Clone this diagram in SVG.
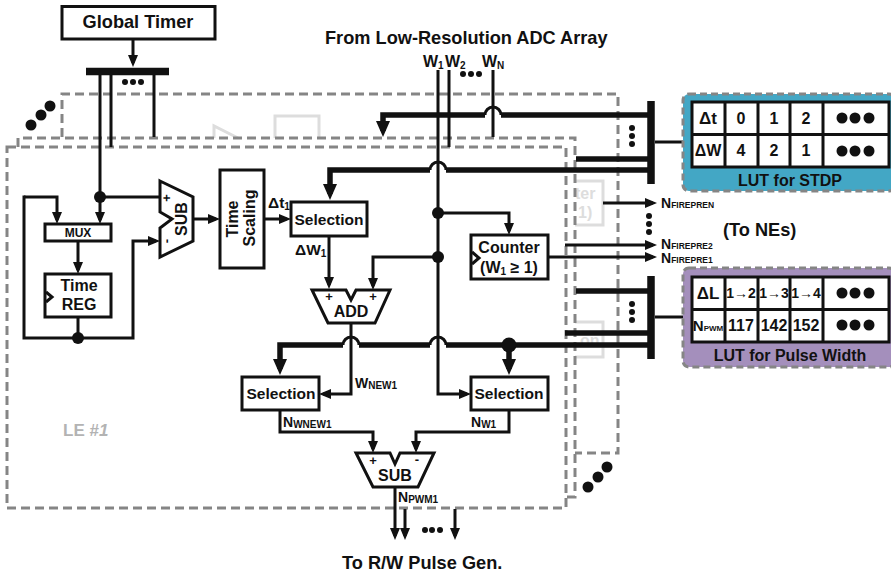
<svg xmlns="http://www.w3.org/2000/svg" width="891" height="576" viewBox="0 0 891 576">
<style>
text{font-family:"Liberation Sans",Arial,sans-serif;font-weight:bold;fill:#111}
.box{fill:#fff;stroke:#111;stroke-width:3}
.w{fill:none;stroke:#111;stroke-width:3}
.t{fill:none;stroke:#111;stroke-width:5.5}
.d{stroke:#858585;stroke-width:3;stroke-dasharray:9 5;fill:#fff}
.g{fill:#fff;stroke:#ddd;stroke-width:3}
.gt{fill:#ddd;font-size:16px}
.c{text-anchor:middle}
.s15{font-size:15.500px}.s16{font-size:16px}.s18{font-size:18.200px}
.sub{font-size:10px}
.fs{font-size:8.500px}
.n{font-size:14px}
.p{font-size:13px;text-anchor:middle}
.lut{stroke:#858585;stroke-width:3;stroke-dasharray:7 4}
.tb{fill:#fff;stroke:#111;stroke-width:3}
</style>
<defs>
<marker id="a" markerUnits="userSpaceOnUse" markerWidth="14" markerHeight="12" refX="8" refY="5" orient="auto"><path d="M0 0L12 5L0 10Z" fill="#111"/></marker>
<marker id="b" markerUnits="userSpaceOnUse" markerWidth="18" markerHeight="16" refX="10" refY="7" orient="auto"><path d="M0 0L16 7L0 14Z" fill="#111"/></marker>
</defs>

<g id="background-planes">
<path class="d" d="M62 137V94H618V453H575"/>
<rect class="g" x="275" y="116" width="44" height="30"/>
<path class="g" d="M214 140V126L238 138"/>
<rect class="g" x="560" y="181" width="43" height="44"/>
<text class="gt" x="575" y="199">ter</text><text class="gt" x="578" y="218">1)</text>
<rect class="g" x="560" y="322" width="43" height="35"/>
<text class="gt" x="580" y="346">on</text>
<path class="d" d="M18 147V138H575V497H566"/>
<rect id="le1-frame" class="d" x="7" y="147" width="559" height="361"/>
<circle cx="31" cy="125" r="5.5" fill="#111"/><circle cx="41" cy="115" r="5.5" fill="#111"/><circle cx="50" cy="106" r="5.5" fill="#111"/>
<circle cx="607" cy="467" r="5.5" fill="#111"/><circle cx="598" cy="477" r="5.5" fill="#111"/><circle cx="588" cy="487" r="5.5" fill="#111"/>
<text x="63" y="436" font-size="17" style="fill:#b3b3b3">LE #<tspan font-style="italic">1</tspan></text>
</g>

<g id="connectors">
<path class="w" d="M133 39V63" marker-end="url(#a)"/>
<path class="w" d="M100 75V220" marker-end="url(#a)"/>
<path class="w" d="M111 75V147M154 75V137"/>
<path class="w" d="M100 197H160"/>
<path class="w" d="M24 197H57V220" marker-end="url(#a)"/>
<path class="w" d="M24 195.500V338H133V241H156" marker-end="url(#a)"/>
<path class="w" d="M78 241V270" marker-end="url(#a)"/>
<path class="w" d="M78 317V338"/>
<path class="w" d="M193 219H216" marker-end="url(#a)"/>
<path class="w" d="M264 219H287" marker-end="url(#a)"/>
<path class="w" d="M329 236V285" marker-end="url(#a)"/>
<path class="w" d="M438 70V394H467" marker-end="url(#a)"/>
<path class="w" d="M449 70V147M493 70V137"/>
<path class="w" d="M438 213H509V231" marker-end="url(#a)"/>
<path class="w" d="M438 257H373V286" marker-end="url(#a)"/>
<path class="w" d="M351 323V394H323" marker-end="url(#a)"/>
<path class="w" d="M280 410V432H373V449" marker-end="url(#a)"/>
<path class="w" d="M509 410V432H416V449" marker-end="url(#a)"/>
<path class="w" d="M395 487V536" marker-end="url(#a)"/>
<path class="w" d="M405 509V536" marker-end="url(#a)"/>
<path class="w" d="M455 509V536" marker-end="url(#a)"/>
<path class="w" d="M548 257H653" marker-end="url(#a)"/>
<path class="w" d="M565 245H653" marker-end="url(#a)"/>
<path class="w" d="M603 203H653" marker-end="url(#a)"/>
<path class="t" d="M383 131V115H485M501 115H648"/>
<path class="w" d="M383 125V131" marker-end="url(#b)"/>
<path class="w" d="M485 115A8 8 0 0 1 501 115" stroke-width="4"/>
<path class="t" d="M576 159H648"/>
<path class="t" d="M330 194V170H430M446 170H648"/>
<path class="w" d="M330 186V194" marker-end="url(#b)"/>
<path class="w" d="M430 170A8 8 0 0 1 446 170" stroke-width="4"/>
<path class="t" d="M576 291H648M565 333H648"/>
<path class="t" d="M280 369V345H343M359 345H430M446 345H648"/>
<path class="w" d="M280 360V369" marker-end="url(#b)"/>
<path class="w" d="M343 345A8 8 0 0 1 359 345M430 345A8 8 0 0 1 446 345" stroke-width="4"/>
<path class="t" d="M509 345V369"/>
<path class="w" d="M509 360V369" marker-end="url(#b)"/>
<path class="w" d="M655 142H684M655 317H684" stroke-width="4.5"/>
<path d="M86 71.5H169" stroke="#111" stroke-width="7.5"/>
<path d="M651 101V184M651 276V359" stroke="#111" stroke-width="7.5"/>
<circle cx="100" cy="197" r="6" fill="#111"/>
<circle cx="78" cy="338" r="6" fill="#111"/>
<circle cx="438" cy="213" r="6" fill="#111"/>
<circle cx="438" cy="257" r="6" fill="#111"/>
<circle cx="509" cy="345" r="7.5" fill="#111"/>
<circle cx="125" cy="82" r="3" fill="#111"/><circle cx="133" cy="82" r="3" fill="#111"/><circle cx="141" cy="82" r="3" fill="#111"/>
<circle cx="463" cy="74" r="3" fill="#111"/><circle cx="471" cy="74" r="3" fill="#111"/><circle cx="479" cy="74" r="3" fill="#111"/>
<circle cx="632" cy="128" r="3" fill="#111"/><circle cx="632" cy="136" r="3" fill="#111"/><circle cx="632" cy="144" r="3" fill="#111"/>
<circle cx="632" cy="304" r="3" fill="#111"/><circle cx="632" cy="312" r="3" fill="#111"/><circle cx="632" cy="320" r="3" fill="#111"/>
<circle cx="649" cy="216" r="3" fill="#111"/><circle cx="649" cy="224" r="3" fill="#111"/><circle cx="649" cy="232" r="3" fill="#111"/>
<circle cx="425" cy="530" r="3" fill="#111"/><circle cx="432" cy="530" r="3" fill="#111"/><circle cx="440" cy="530" r="3" fill="#111"/>
</g>

<g id="global-timer"><rect class="box" x="62" y="6.500" width="153" height="32.500"/><text class="s18 c" x="138" y="28">Global Timer</text></g>
<g id="mux"><rect class="box" x="45" y="224" width="66" height="17"/><text class="c" font-size="12" x="78" y="237">MUX</text></g>
<g id="time-reg"><rect class="box" x="45" y="274" width="66" height="43"/><path class="w" d="M46 292L52 297L46 302"/><text class="s16 c" x="79" y="291">Time</text><text class="s16 c" x="79" y="310">REG</text></g>
<g id="sub-time"><path class="box" d="M160 181L193 197V241L160 257V228L172 219L160 212Z"/><text class="s16 c" transform="translate(187 219) rotate(-90)">SUB</text><text class="p" transform="translate(171 198) rotate(-90)">+</text><text class="p" transform="translate(171 241) rotate(-90)">-</text></g>
<g id="time-scaling"><rect class="box" x="220" y="170" width="44" height="98"/><text class="s16 c" transform="translate(238 219) rotate(-90)">Time</text><text class="s16 c" transform="translate(255 218) rotate(-90)">Scaling</text></g>
<g id="selection-dt"><rect class="box" x="291" y="202" width="76" height="34"/><text class="s15 c" x="329" y="225">Selection</text></g>
<g id="counter"><rect class="box" x="471" y="235" width="77" height="44"/><path class="w" d="M472 252L479 258L472 264"/><text class="s16 c" x="509" y="253">Counter</text><text class="s16 c" x="509" y="273">(W<tspan class="sub" dy="2">1</tspan><tspan dy="-2"> ≥ 1)</tspan></text></g>
<g id="add"><path class="box" d="M312 290H346L351 300L356 290H390L375 323H328Z"/><text class="s16 c" x="351" y="317">ADD</text><text class="p" x="329" y="301">+</text><text class="p" x="373" y="301">+</text></g>
<g id="selection-wnew"><rect class="box" x="242" y="377" width="77" height="33"/><text class="s15 c" x="281" y="399">Selection</text></g>
<g id="selection-w1"><rect class="box" x="471" y="377" width="77" height="33"/><text class="s15 c" x="509" y="399">Selection</text></g>
<g id="sub-pwm"><path class="box" d="M356 453H390L395 464L400 453H434L418 487H373Z"/><text class="s16 c" x="395" y="481">SUB</text><text class="p" x="373" y="465">+</text><text class="p" x="417" y="464">-</text></g>

<g id="lut-stdp">
<rect class="lut" x="683" y="94" width="212" height="97" rx="6" fill="#43a7c5"/>
<rect class="tb" x="692" y="102" width="197" height="65"/>
<path class="w" d="M692 134.500H889M725 102V167M758 102V167M790 102V167M823 102V167"/>
<text class="c" font-size="17" x="708" y="124">Δt</text><text class="s16 c" x="741" y="124">0</text><text class="s16 c" x="774" y="124">1</text><text class="s16 c" x="806" y="124">2</text>
<text class="s16 c" x="708" y="156">ΔW</text><text class="s16 c" x="741" y="156">4</text><text class="s16 c" x="774" y="156">2</text><text class="s16 c" x="806" y="156">1</text>
<g fill="#111"><circle cx="842" cy="118" r="5.500"/><circle cx="855" cy="118" r="5.500"/><circle cx="869" cy="118" r="5.500"/><circle cx="842" cy="151" r="5.500"/><circle cx="855" cy="151" r="5.500"/><circle cx="869" cy="151" r="5.500"/></g>
<text class="s16 c" x="790" y="186">LUT for STDP</text>
</g>
<g id="lut-pulse">
<rect class="lut" x="683" y="268" width="212" height="99" rx="6" fill="#a48fbc"/>
<rect class="tb" x="692" y="277" width="197" height="65"/>
<path class="w" d="M692 309.500H889M725 277V342M758 277V342M790 277V342M823 277V342"/>
<text class="c" font-size="17" x="708" y="299">ΔL</text>
<text class="c" font-size="14" x="741" y="298">1→2</text><text class="c" font-size="14" x="774" y="298">1→3</text><text class="c" font-size="14" x="806" y="298">1→4</text>
<text class="c" font-size="15" x="708" y="331">N<tspan font-size="8">PWM</tspan></text>
<text class="s16 c" x="741" y="331">117</text><text class="s16 c" x="774" y="331">142</text><text class="s16 c" x="806" y="331">152</text>
<g fill="#111"><circle cx="842" cy="293" r="5.500"/><circle cx="855" cy="293" r="5.500"/><circle cx="869" cy="293" r="5.500"/><circle cx="842" cy="325" r="5.500"/><circle cx="855" cy="325" r="5.500"/><circle cx="869" cy="325" r="5.500"/></g>
<text class="s16 c" x="790" y="361">LUT for Pulse Width</text>
</g>

<g id="labels">
<text class="s18" x="325" y="44">From Low-Resolution ADC Array</text>
<text class="s18" x="342" y="569">To R/W Pulse Gen.</text>
<text class="s18" x="723" y="236">(To NEs)</text>
<text class="s16" x="423" y="67">W<tspan class="sub" dy="2">1</tspan></text>
<text class="s16" x="445" y="67">W<tspan class="sub" dy="2">2</tspan></text>
<text class="s16" x="482" y="67">W<tspan class="sub" dy="2">N</tspan></text>
<text class="s15" x="268" y="208">Δt<tspan class="sub" dy="2">1</tspan></text>
<text class="s15" x="295" y="255">ΔW<tspan class="sub" dy="2">1</tspan></text>
<text class="n" x="355" y="388">W<tspan class="sub" dy="1">NEW1</tspan></text>
<text class="n" x="283" y="427">N<tspan class="sub" dy="1">WNEW1</tspan></text>
<text class="n" x="471" y="427">N<tspan class="sub" dy="1">W1</tspan></text>
<text class="n" x="398" y="502">N<tspan class="sub" dy="1">PWM1</tspan></text>
<text class="n" x="661" y="208">N<tspan class="fs">FIREPREN</tspan></text>
<text class="n" x="661" y="249">N<tspan class="fs">FIREPRE2</tspan></text>
<text class="n" x="661" y="263">N<tspan class="fs">FIREPRE1</tspan></text>
</g>
</svg>
